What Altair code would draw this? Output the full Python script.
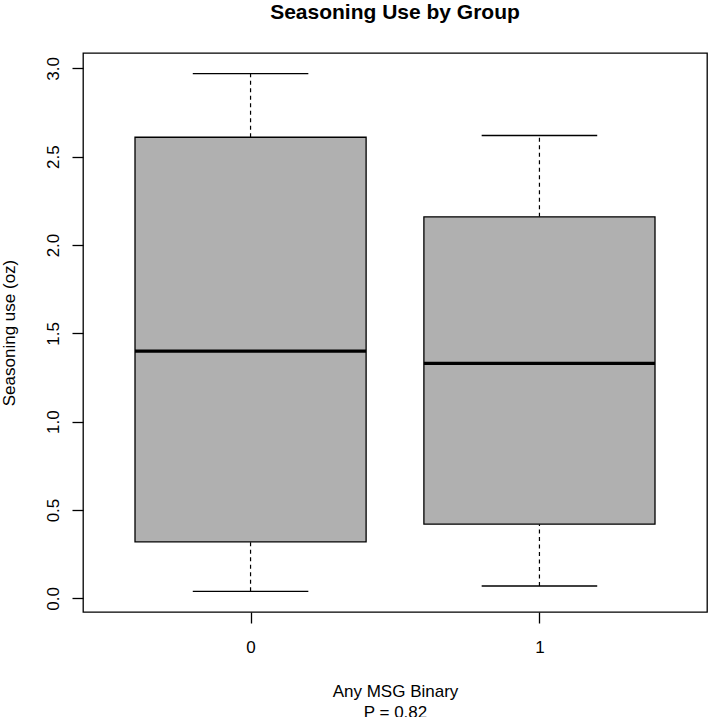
import altair as alt
import pandas as pd

# Five-number summaries per group
groups = ["0", "1"]
lower_whisker = [0.04, 0.07]
first_quartile = [0.32, 0.42]
medians = [1.40, 1.33]
third_quartile = [2.61, 2.16]
upper_whisker = [2.97, 2.62]

y_ticks = [0.0, 0.5, 1.0, 1.5, 2.0, 2.5, 3.0]

FONT = "Liberation Sans"
BOX_HALF = 0.4     # half box width, in group-slot units
CAP_HALF = 0.2     # half whisker-cap width

df = pd.DataFrame({
    "group": groups,
    "slot": [i + 1 for i in range(len(groups))],
    "lo": lower_whisker,
    "q1": first_quartile,
    "med": medians,
    "q3": third_quartile,
    "hi": upper_whisker,
})

x_scale = alt.Scale(domain=[0.42, 2.58], nice=False, zero=False)
y_scale = alt.Scale(domain=[-0.077, 3.087], nice=False, zero=False)

label_list = "[" + ",".join(f"'{g}'" for g in groups) + "]"
x_axis = alt.Axis(
    values=[i + 1 for i in range(len(groups))],
    labelExpr=f"{label_list}[datum.value - 1]",
    title=["Any MSG Binary", "P = 0.82"],
    titleBaseline="alphabetic",
    titleY=84,
    titleLineHeight=21,
    titleFontWeight="normal",
    labelPadding=16,
    labelAngle=0,
    tickSize=11,
    grid=False,
    domain=False,
)
y_axis = alt.Axis(
    values=y_ticks,
    format=".1f",
    title="Seasoning use (oz)",
    titleAngle=270,
    titleBaseline="alphabetic",
    titleX=-69,
    titleFontWeight="normal",
    labelAngle=270,
    labelAlign="center",
    labelBaseline="alphabetic",
    labelPadding=14,
    tickSize=11,
    grid=False,
    domain=False,
)

base = alt.Chart(df).transform_calculate(
    box_lo=f"datum.slot - {BOX_HALF}",
    box_hi=f"datum.slot + {BOX_HALF}",
    cap_lo=f"datum.slot - {CAP_HALF}",
    cap_hi=f"datum.slot + {CAP_HALF}",
)

dash = dict(color="black", strokeWidth=1.2, strokeDash=[4, 3.5])

whisker_up = base.mark_rule(**dash).encode(
    x=alt.X("slot:Q", scale=x_scale, axis=x_axis),
    y=alt.Y("q3:Q", scale=y_scale, axis=y_axis),
    y2="hi:Q",
)
whisker_down = base.mark_rule(**dash).encode(
    x=alt.X("slot:Q", scale=x_scale, axis=x_axis),
    y=alt.Y("lo:Q", scale=y_scale, axis=y_axis),
    y2="q1:Q",
)
cap_up = base.mark_rule(color="black", strokeWidth=1.4).encode(
    x=alt.X("cap_lo:Q", scale=x_scale, axis=x_axis),
    x2="cap_hi:Q",
    y=alt.Y("hi:Q", scale=y_scale, axis=y_axis),
)
cap_down = base.mark_rule(color="black", strokeWidth=1.4).encode(
    x=alt.X("cap_lo:Q", scale=x_scale, axis=x_axis),
    x2="cap_hi:Q",
    y=alt.Y("lo:Q", scale=y_scale, axis=y_axis),
)
boxes = base.mark_rect(fill="#B0B0B0", stroke="black", strokeWidth=1.3).encode(
    x=alt.X("box_lo:Q", scale=x_scale, axis=x_axis),
    x2="box_hi:Q",
    y=alt.Y("q1:Q", scale=y_scale, axis=y_axis),
    y2="q3:Q",
)
median_lines = base.mark_rule(color="black", strokeWidth=3.2).encode(
    x=alt.X("box_lo:Q", scale=x_scale, axis=x_axis),
    x2="box_hi:Q",
    y=alt.Y("med:Q", scale=y_scale, axis=y_axis),
)

chart = alt.layer(
    whisker_up, whisker_down, cap_up, cap_down, boxes, median_lines
).properties(
    width=624,
    height=559,
    padding={"left": 83, "top": 53, "right": 2, "bottom": 105},
    autosize="none",
    background="white",
    title=alt.TitleParams(
        "Seasoning Use by Group",
        font=FONT,
        fontSize=21,
        fontWeight="bold",
        color="black",
        anchor="middle",
        frame="group",
        offset=30,
    ),
).configure_view(
    stroke="black", strokeWidth=1.3
).configure_axis(
    labelFont=FONT,
    labelFontSize=17,
    labelColor="black",
    titleFont=FONT,
    titleFontSize=17,
    titleColor="black",
    tickColor="black",
    tickWidth=1.3,
)

chart.save("out.html", embed_options={"renderer": "svg", "actions": False})
